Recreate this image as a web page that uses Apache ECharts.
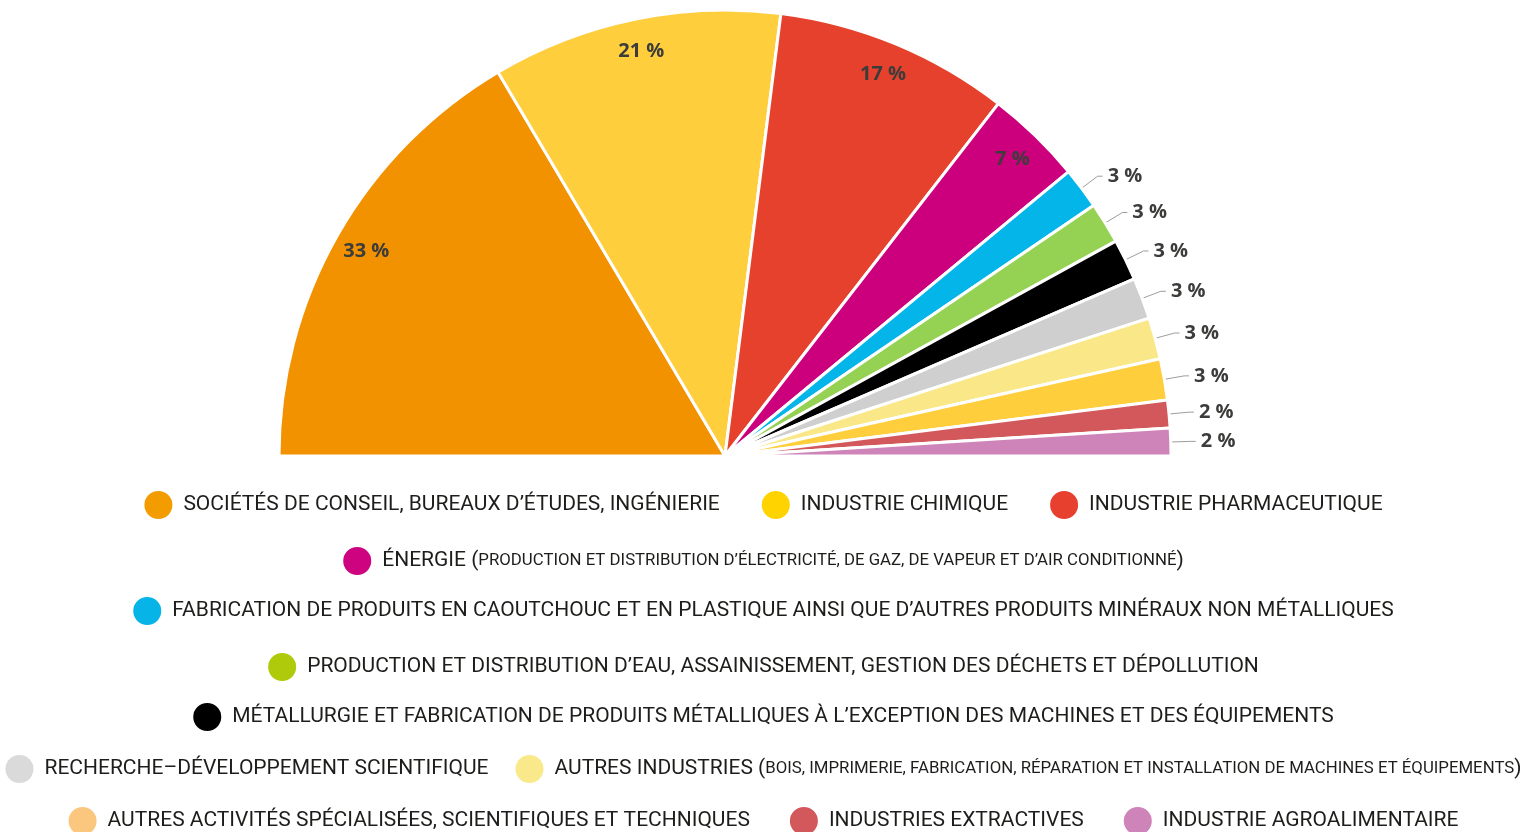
<!DOCTYPE html>
<html>
<head>
<meta charset="utf-8">
<script src="https://cdn.jsdelivr.net/npm/echarts@6/dist/echarts.min.js"></script>
<style>
html, body { margin: 0; padding: 0; background: #fff; }
#chart { width: 1525px; height: 832px; }
</style>
</head>
<body>
<div id="chart"></div>
<script>
// secteurs d'activité (ordre du graphique)
var sectors = [
    'SOCIÉTÉS DE CONSEIL, BUREAUX D’ÉTUDES, INGÉNIERIE',
    'INDUSTRIE CHIMIQUE',
    'INDUSTRIE PHARMACEUTIQUE',
    'ÉNERGIE (PRODUCTION ET DISTRIBUTION D’ÉLECTRICITÉ, DE GAZ, DE VAPEUR ET D’AIR CONDITIONNÉ)',
    'FABRICATION DE PRODUITS EN CAOUTCHOUC ET EN PLASTIQUE AINSI QUE D’AUTRES PRODUITS MINÉRAUX NON MÉTALLIQUES',
    'PRODUCTION ET DISTRIBUTION D’EAU, ASSAINISSEMENT, GESTION DES DÉCHETS ET DÉPOLLUTION',
    'MÉTALLURGIE ET FABRICATION DE PRODUITS MÉTALLIQUES À L’EXCEPTION DES MACHINES ET DES ÉQUIPEMENTS',
    'RECHERCHE–DÉVELOPPEMENT SCIENTIFIQUE',
    'AUTRES INDUSTRIES (BOIS, IMPRIMERIE, FABRICATION, RÉPARATION ET INSTALLATION DE MACHINES ET ÉQUIPEMENTS)',
    'AUTRES ACTIVITÉS SPÉCIALISÉES, SCIENTIFIQUES ET TECHNIQUES',
    'INDUSTRIES EXTRACTIVES',
    'INDUSTRIE AGROALIMENTAIRE'
];
// parts en %
var shares = [33, 21, 17, 7, 3, 3, 3, 3, 3, 3, 2, 2];

var sliceColors = ['#F39200', '#FECE3D', '#E6412D', '#CC007D', '#03B5E9', '#95D152',
    '#000000', '#D0CFCF', '#FAE888', '#FECE3D', '#D2585C', '#CE84B9'];
var legendColors = ['#F39C00', '#FFD300', '#E8402E', '#CD037F', '#07B4E8', '#AFCA0B',
    '#000000', '#DADADA', '#FAE98A', '#FBC77E', '#D2585C', '#CE84B9'];

// lignes de la légende (indices des secteurs)
var legendRows = [[0, 1, 2], [3], [4], [5], [6], [7, 8], [9, 10, 11]];
var rowCenters = [503, 559, 609, 665, 715, 767, 819];
var rowGaps = [40, 40, 40, 40, 40, 25, 38];

var chartDom = document.getElementById('chart');
var myChart = echarts.init(chartDom);

var FONT = 'Roboto, "Noto Sans", sans-serif';
var LABEL_FONT = '"Open Sans", sans-serif';
var center = [725, 456];
var R = 446;

var mainData = [];
var innerData = [];
for (var i = 0; i < sectors.length; i++) {
    var small = shares[i] < 5;
    mainData.push({
        name: sectors[i],
        value: shares[i],
        itemStyle: { color: sliceColors[i] },
        label: { show: small },
        labelLine: { show: small }
    });
    innerData.push({
        name: sectors[i],
        value: shares[i],
        label: { show: !small }
    });
}

function legendName(name) {
    var m = name.match(/^(.*?)\((.*)\)$/);
    if (!m) return name;
    return '{big|' + m[1] + '(}{small|' + m[2] + '}{big|)}';
}

var legends = [];
for (var r = 0; r < legendRows.length; r++) {
    legends.push({
        data: legendRows[r].map(function (k) {
            return { name: sectors[k], itemStyle: { color: legendColors[k] } };
        }),
        left: 'center',
        top: rowCenters[r] - 14,
        width: 1700,
        padding: 0,
        orient: 'horizontal',
        icon: 'circle',
        itemWidth: 30,
        itemHeight: 30,
        itemGap: rowGaps[r],
        selectedMode: false,
        formatter: legendName,
        textStyle: {
            fontFamily: FONT,
            fontSize: 21,
            color: '#1D1D1B',
            padding: [0, 0, 0, 5],
            rich: {
                big: { fontFamily: FONT, fontSize: 21, color: '#1D1D1B' },
                small: { fontFamily: FONT, fontSize: 16.8, color: '#1D1D1B' }
            }
        }
    });
}

var option = {
    animation: false,
    legend: legends,
    series: [
        {
            type: 'pie',
            center: center,
            radius: [0, R],
            startAngle: 180,
            endAngle: 0,
            silent: true,
            data: mainData,
            itemStyle: { borderColor: '#ffffff', borderWidth: 3 },
            label: {
                position: 'outside',
                formatter: '{c} %',
                fontFamily: LABEL_FONT,
                fontWeight: 'bold',
                fontSize: 20,
                color: '#3C3C3B',
                padding: [0, 0, 24, 0]
            },
            labelLine: {
                length: 20,
                length2: 5,
                lineStyle: { color: '#9D9D9C', width: 1 }
            }
        },
        {
            type: 'pie',
            center: center,
            radius: [374, R],
            startAngle: 180,
            endAngle: 0,
            silent: true,
            data: innerData,
            itemStyle: { color: 'transparent', borderWidth: 0 },
            label: {
                position: 'inside',
                formatter: '{c} %',
                fontFamily: LABEL_FONT,
                fontWeight: 'bold',
                fontSize: 20,
                color: '#3C3C3B'
            },
            labelLine: { show: false }
        }
    ]
};

myChart.setOption(option);
</script>
</body>
</html>
